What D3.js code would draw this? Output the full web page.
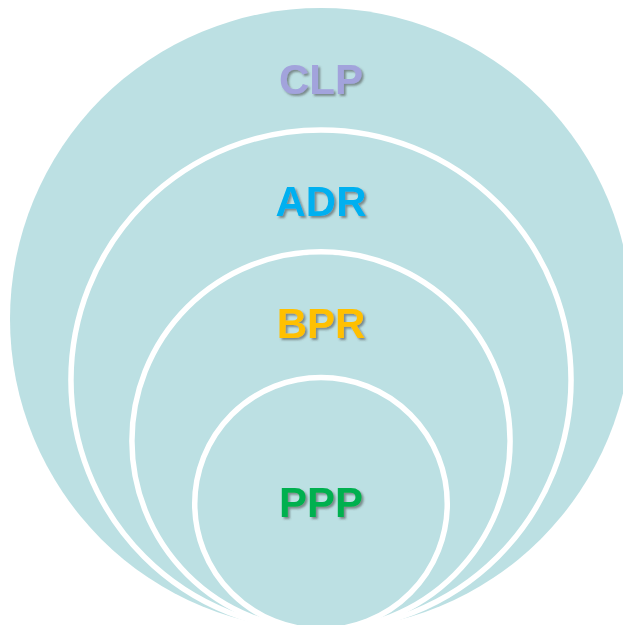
<!DOCTYPE html>
<html>
<head>
<meta charset="utf-8">
<script src="https://cdn.jsdelivr.net/npm/d3@7"></script>
<style>
  html, body { margin: 0; padding: 0; background: #fff; }
  svg { display: block; }
  .ring-label { font-family: "Liberation Sans", Arial, sans-serif; font-weight: bold; font-size: 42px; }
</style>
</head>
<body>
<div id="chart"></div>
<script>
// nested circles, largest first
const labels = ["CLP", "ADR", "BPR", "PPP"];
const sizes = [100, 80.4, 60.8, 40.6];
const labelColors = ["#a2a3dc", "#00b0f0", "#ffc000", "#00b050"];

const width = 623;
const height = 625;
const cx = 321;
const baseY = 630; // all circles touch here

const svg = d3.select("#chart")
  .append("svg")
  .attr("width", width)
  .attr("height", height);

const shadow = svg.append("defs")
  .append("filter")
  .attr("id", "shadow")
  .attr("x", "-10%").attr("y", "-10%")
  .attr("width", "130%").attr("height", "140%");
shadow.append("feDropShadow")
  .attr("dx", 2).attr("dy", 2)
  .attr("stdDeviation", 1)
  .attr("flood-color", "#444")
  .attr("flood-opacity", 0.55);

const r = d3.scaleLinear().domain([0, 100]).range([0, 311]);

const rings = labels.map((label, i) => ({
  label,
  size: sizes[i],
  color: labelColors[i],
  index: i
}));

svg.selectAll("circle.ring")
  .data(rings)
  .join("circle")
  .attr("class", "ring")
  .attr("cx", cx)
  .attr("cy", (d) => baseY - r(d.size))
  .attr("r", (d) => r(d.size))
  .attr("fill", "#bce0e3")
  .attr("stroke", (d) => (d.index === 0 ? "none" : "#fff"))
  .attr("stroke-width", 5.5);

svg.selectAll("text.ring-label")
  .data(rings)
  .join("text")
  .attr("class", "ring-label")
  .attr("x", cx)
  .attr("y", (d, i) => {
    const top = baseY - 2 * r(d.size);
    if (i === rings.length - 1) return baseY - r(d.size) + 13;
    return top + 86;
  })
  .attr("text-anchor", "middle")
  .attr("fill", (d) => d.color)
  .attr("filter", "url(#shadow)")
  .text((d) => d.label);
</script>
</body>
</html>
